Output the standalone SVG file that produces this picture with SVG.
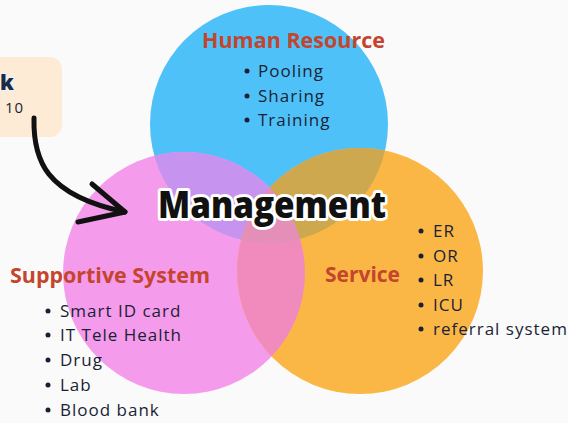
<svg xmlns="http://www.w3.org/2000/svg" width="568" height="423" viewBox="0 0 568 423">
<style>
.title{font-family:"Open Sans","Liberation Sans",sans-serif;font-weight:700;font-size:21px;fill:#c4452d}
.item{font-family:"Open Sans","Noto Sans",sans-serif;font-size:17px;letter-spacing:1px;fill:#1a1f35}
.mgmt{font-family:"Open Sans","Liberation Sans",sans-serif;font-weight:800;font-size:37px;fill:#111;stroke:#fff;stroke-width:6px;paint-order:stroke;stroke-linejoin:round}
.arrow{fill:none;stroke:#111;stroke-width:5;stroke-linecap:round;stroke-linejoin:round}
</style>
<defs>
<clipPath id="cBlue"><circle cx="269" cy="124" r="119"/></clipPath>
<clipPath id="cPink"><circle cx="184" cy="273" r="121"/></clipPath>
<clipPath id="cOrange"><circle cx="360" cy="271" r="123"/></clipPath>
</defs>
<rect width="568" height="423" fill="#fafafa"/>
<g id="note">
<rect x="-20" y="57" width="82" height="80" rx="12" fill="#fdebd6"/>
<text x="0" y="90" font-family="Open Sans, Liberation Sans, sans-serif" font-weight="800" font-size="21" fill="#1c2a44" stroke="#e8f2ff" stroke-width="2" paint-order="stroke">k</text>
<text x="5" y="113" font-family="Open Sans, Noto Sans, sans-serif" font-size="15" letter-spacing="1" fill="#1a1f35">10</text>
</g>
<g id="human-resource">
<circle cx="269" cy="124" r="119" fill="#4ec2f8"/>
</g>
<g id="supportive-system">
<circle cx="184" cy="273" r="121" fill="#f59bec"/>
</g>
<g id="service">
<circle cx="360" cy="271" r="123" fill="#fbb746"/>
</g>
<g id="overlaps">
<g clip-path="url(#cBlue)"><circle cx="184" cy="273" r="121" fill="#c693ee"/><circle cx="360" cy="271" r="123" fill="#cda84f"/></g>
<g clip-path="url(#cPink)"><circle cx="360" cy="271" r="123" fill="#f28bbd"/></g>
<g clip-path="url(#cPink)"><g clip-path="url(#cBlue)"><circle cx="360" cy="271" r="123" fill="#e38fb8"/></g></g>
</g>
<g id="connectors">
<path class="arrow" d="M34,118 C33,160 45,195 125,212"/>
<path class="arrow" d="M92,184 L125,212 L78,222"/>
</g>
<g id="labels">
<text class="title" x="202" y="48" textLength="183" lengthAdjust="spacingAndGlyphs">Human Resource</text>
<g class="item">
<circle cx="247" cy="71" r="2.5" fill="#1a1f35"/><text x="258" y="77">Pooling</text>
<circle cx="247" cy="96" r="2.5" fill="#1a1f35"/><text x="258" y="102">Sharing</text>
<circle cx="247" cy="120" r="2.5" fill="#1a1f35"/><text x="258" y="126">Training</text>
</g>
<text class="title" x="10" y="283" textLength="200" lengthAdjust="spacingAndGlyphs">Supportive System</text>
<g class="item">
<circle cx="48" cy="311" r="2.5" fill="#1a1f35"/><text x="60" y="317">Smart ID card</text>
<circle cx="48" cy="335" r="2.5" fill="#1a1f35"/><text x="60" y="341">IT Tele Health</text>
<circle cx="48" cy="360" r="2.5" fill="#1a1f35"/><text x="60" y="366">Drug</text>
<circle cx="48" cy="385" r="2.5" fill="#1a1f35"/><text x="60" y="391">Lab</text>
<circle cx="48" cy="410" r="2.5" fill="#1a1f35"/><text x="60" y="416">Blood bank</text>
</g>
<text class="title" x="325" y="282" textLength="75" lengthAdjust="spacingAndGlyphs">Service</text>
<g class="item">
<circle cx="421" cy="231" r="2.5" fill="#1a1f35"/><text x="433" y="237">ER</text>
<circle cx="421" cy="256" r="2.5" fill="#1a1f35"/><text x="433" y="262">OR</text>
<circle cx="421" cy="280" r="2.5" fill="#1a1f35"/><text x="433" y="286">LR</text>
<circle cx="421" cy="305" r="2.5" fill="#1a1f35"/><text x="433" y="311">ICU</text>
<circle cx="421" cy="329" r="2.5" fill="#1a1f35"/><text x="433" y="335">referral system</text>
</g>
<text id="management" class="mgmt" x="272" y="218" text-anchor="middle" textLength="228" lengthAdjust="spacingAndGlyphs">Management</text>
</g>
</svg>
